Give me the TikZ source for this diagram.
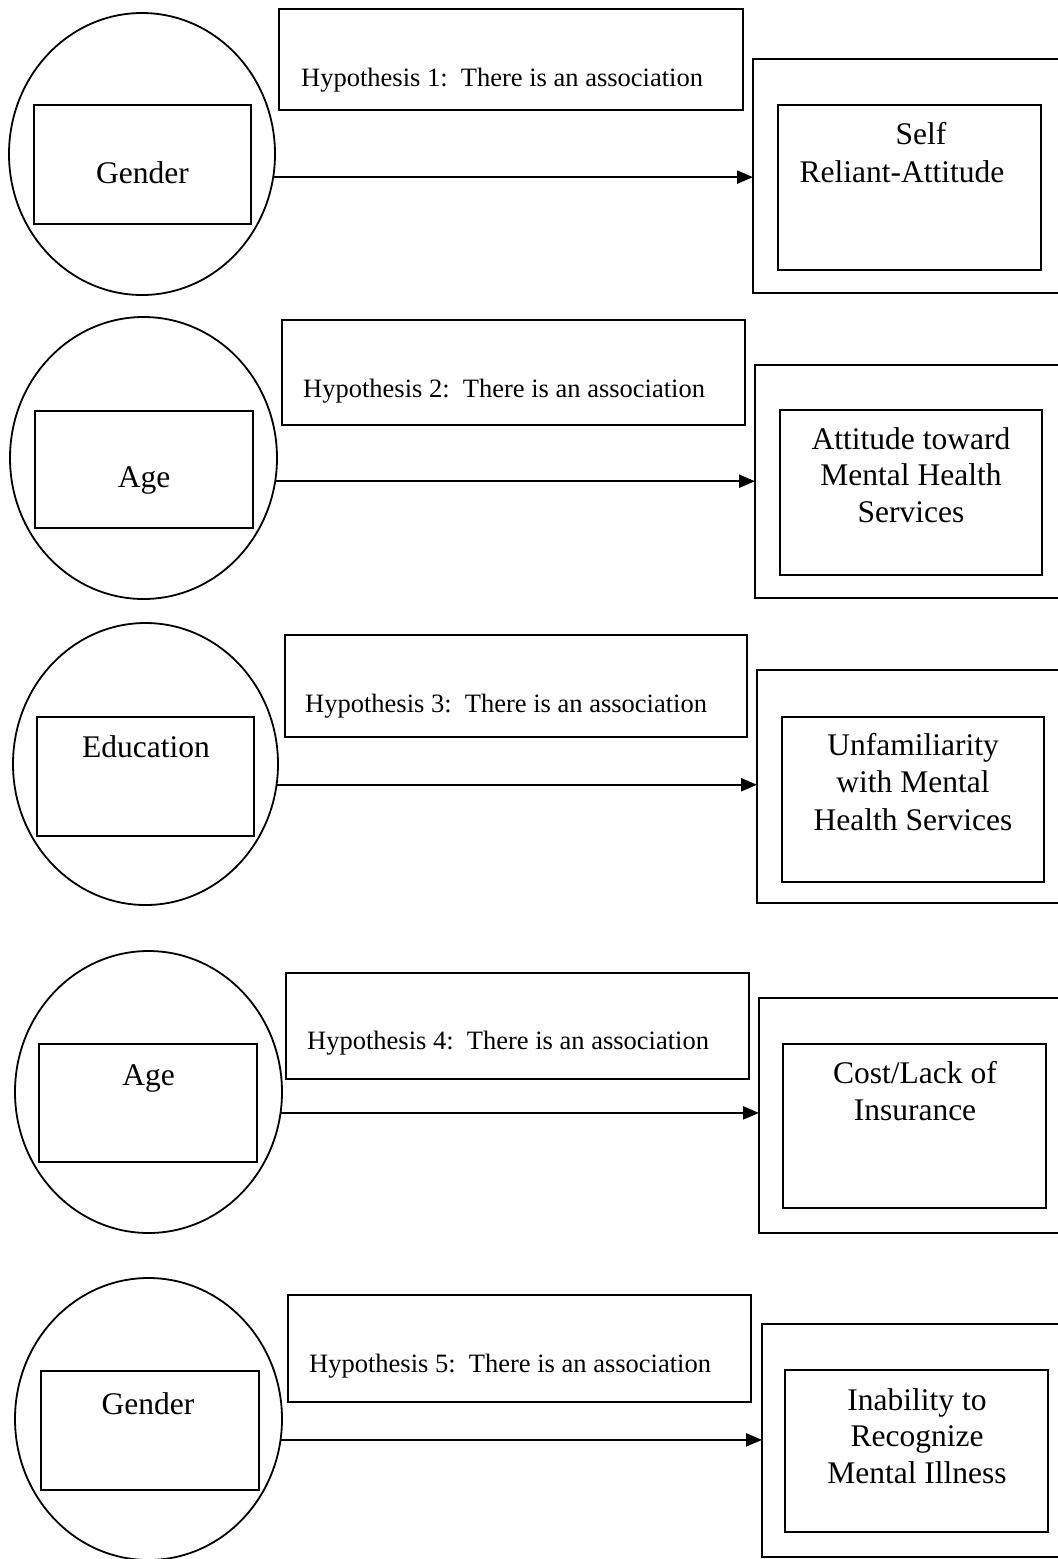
\documentclass[tikz,border=0pt]{standalone}
\usepackage{fontspec}
\setmainfont{Liberation Serif}
\usetikzlibrary{shapes.geometric,arrows.meta}
\tikzset{
  circ/.style={draw, ellipse, line width=1.8pt, inner sep=0pt, outer sep=0pt},
  rbox/.style={draw, rectangle, line width=2.6pt, inner sep=0pt, outer sep=0pt},
  arr/.style={line width=2.3pt, -{Triangle[length=16pt,width=13pt]}},
  lbl/.style={anchor=base, font=\fontsize{31.5}{37}\selectfont, inner sep=0pt},
  hyptxt/.style={anchor=base west, font=\fontsize{26.5}{30}\selectfont, inner sep=0pt},
}
\newcommand{\boxnode}[5]{\node[rbox, minimum width={#4-#2}, minimum height={#5-#3}] (#1) at ({(#2+#4)/2},{(#3+#5)/2}) {};}
\newcommand{\ellnode}[5]{\node[circ, minimum width={2*#4}, minimum height={2*#5}] (#1) at (#2,#3) {};}
\begin{document}
\begin{tikzpicture}[x=1pt,y=-1pt]
\useasboundingbox (0,0) rectangle (1058,1559);
\clip (0,0) rectangle (1058,1559);
\fill[white] (0,0) rectangle (1058,1559);

% ---------- Row 1 ----------
\ellnode{e1}{142}{154}{133}{141}
\boxnode{i1}{34}{105}{251}{224}
\node[lbl] (l1) at (142.5,183) {Gender};
\boxnode{h1}{279}{9}{743}{110}
\node[hyptxt] (ht1) at (301,86) {Hypothesis 1:\hspace{0.5em}There is an association};
\boxnode{o1}{753}{59}{1066}{293}
\boxnode{r1}{778}{105}{1041}{270}
\node[lbl] (t1a) at (921,144) {Self};
\node[lbl] (t1b) at (902,182) {Reliant-Attitude};
\draw[arr] (e1.-10) -- (e1.-10 -| o1.west);

% ---------- Row 2 ----------
\ellnode{e2}{143.5}{458}{133.5}{141}
\boxnode{i2}{35}{411}{253}{528}
\node[lbl] (l2) at (144,487) {Age};
\boxnode{h2}{282}{320}{745}{425}
\node[hyptxt] (ht2) at (303,397) {Hypothesis 2:\hspace{0.5em}There is an association};
\boxnode{o2}{755}{365}{1066}{598}
\boxnode{r2}{780}{410}{1042}{575}
\node[lbl] (t2a) at (911,449) {Attitude toward};
\node[lbl] (t2b) at (911,485.5) {Mental Health};
\node[lbl] (t2c) at (911,522) {Services};
\draw[arr] (e2.-10) -- (e2.-10 -| o2.west);

% ---------- Row 3 ----------
\ellnode{e3}{145.5}{764}{132.5}{141}
\boxnode{i3}{37}{717}{254}{836}
\node[lbl] (l3) at (146,757) {Education};
\boxnode{h3}{285}{635}{747}{737}
\node[hyptxt] (ht3) at (305,712) {Hypothesis 3:\hspace{0.5em}There is an association};
\boxnode{o3}{757}{670}{1066}{903}
\boxnode{r3}{782}{717}{1044}{882}
\node[lbl] (t3a) at (913,755) {Unfamiliarity};
\node[lbl] (t3b) at (913,792.5) {with Mental};
\node[lbl] (t3c) at (913,830) {Health Services};
\draw[arr] (e3.-9) -- (e3.-9 -| o3.west);

% ---------- Row 4 ----------
\ellnode{e4}{148.5}{1092}{133.5}{141}
\boxnode{i4}{39}{1044}{257}{1162}
\node[lbl] (l4) at (148.5,1085) {Age};
\boxnode{h4}{286}{973}{749}{1079}
\node[hyptxt] (ht4) at (307,1049) {Hypothesis 4:\hspace{0.5em}There is an association};
\boxnode{o4}{759}{998}{1066}{1233}
\boxnode{r4}{783}{1044}{1046}{1208}
\node[lbl] (t4a) at (915,1083) {Cost/Lack of};
\node[lbl] (t4b) at (915,1120) {Insurance};
\draw[arr] (e4.-9.5) -- (e4.-9.5 -| o4.west);

% ---------- Row 5 ----------
\ellnode{e5}{148.5}{1419}{133.5}{141}
\boxnode{i5}{41}{1371}{259}{1490}
\node[lbl] (l5) at (148,1414) {Gender};
\boxnode{h5}{288}{1295}{751}{1402}
\node[hyptxt] (ht5) at (309,1372) {Hypothesis 5:\hspace{0.5em}There is an association};
\boxnode{o5}{762}{1324}{1066}{1557}
\boxnode{r5}{785}{1370}{1048}{1532}
\node[lbl] (t5a) at (917,1410) {Inability to};
\node[lbl] (t5b) at (917,1446) {Recognize};
\node[lbl] (t5c) at (917,1483) {Mental Illness};
\draw[arr] (e5.-9.5) -- (e5.-9.5 -| o5.west);
\end{tikzpicture}
\end{document}
